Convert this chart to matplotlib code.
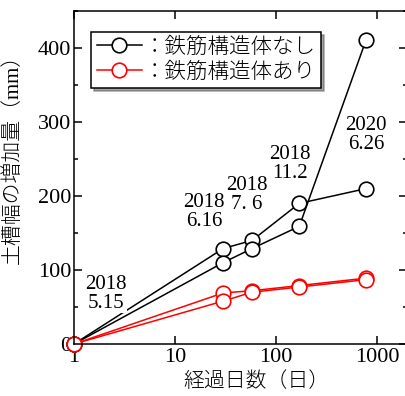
import matplotlib
matplotlib.use('Agg')
import matplotlib.pyplot as plt
from matplotlib.ticker import MultipleLocator, NullLocator, FixedLocator

plt.rcParams['font.family'] = ['Liberation Serif', 'Noto Sans CJK JP', 'DejaVu Sans']

# elapsed days (log scale) and measured widening of the soil tank (mm)
days = [1, 30, 58, 170, 780]
no_rebar_a = [0, 129, 140, 190, 210]
no_rebar_b = [0, 110, 129, 159, 411]
rebar_a = [0, 69, 72, 79, 89]
rebar_b = [0, 58, 70, 77, 87]

label_no = '：鉄筋構造体なし'
label_yes = '：鉄筋構造体あり'

# survey dates written next to the points
date_text = ['2018\n5.15', '2018\n6.16', '2018\n7. 6', '2018\n11.2', '2020\n6.26']
date_x = [2.07, 19.4, 51.6, 138, 778]
date_y = [68, 179, 201, 243, 282]

fig = plt.figure(figsize=(4.05, 3.96), dpi=100)
ax = fig.add_axes([74/405, 1-344/396, 333.4/405, 333/396])

mk = dict(marker='o', markersize=10.5, markerfacecolor='white',
          markeredgewidth=1.2, linewidth=1.1, clip_on=False)
ax.plot(days, no_rebar_a, color='black', label=label_no, **mk)
ax.plot(days, no_rebar_b, color='black', **mk)
ax.plot(days, rebar_a, color='red', label=label_yes, **mk)
ax.plot(days, rebar_b, color='red', **mk)

for t, x, y in zip(date_text, date_x, date_y):
    ax.text(x, y, t, ha='center', va='center', fontsize=15, linespacing=1.0,
            bbox=dict(facecolor='white', edgecolor='none', pad=0))

ax.set_xscale('log')
ax.set_xlim(1, 2000)
ax.set_ylim(0, 450)
ax.xaxis.set_major_locator(FixedLocator([1, 10, 100, 1000]))
ax.xaxis.set_minor_locator(NullLocator())
ax.set_xticklabels(['1', '10', '100', '1000'])
ax.yaxis.set_major_locator(MultipleLocator(100))
ax.yaxis.set_minor_locator(MultipleLocator(50))
ax.tick_params(which='both', direction='in', top=True, right=True,
               labelsize=16, width=1.1)
ax.tick_params(which='major', length=6)
ax.tick_params(which='minor', length=3)
ax.tick_params(axis='x', pad=3)
ax.tick_params(axis='y', pad=2)
for s in ax.spines.values():
    s.set_linewidth(1.1)

leg = ax.legend(loc='upper left', bbox_to_anchor=(0.052, 0.937),
                prop=dict(size=15.5, weight='light'),
                frameon=True, fancybox=False, shadow=True, framealpha=1,
                edgecolor='black', handlelength=2.1, handletextpad=0.1,
                borderpad=0.25, labelspacing=0.2, borderaxespad=0)
leg.get_frame().set_linewidth(1.1)

fig.text(13/405, 1-154/396, '土槽幅の増加量（mm）', rotation=90,
         ha='center', va='center', fontsize=15, fontweight='light')
fig.text(256/405, 1-382/396, '経過日数（日）', ha='center', va='center',
         fontsize=15, fontweight='light')

fig.savefig('out.png', dpi=100)
